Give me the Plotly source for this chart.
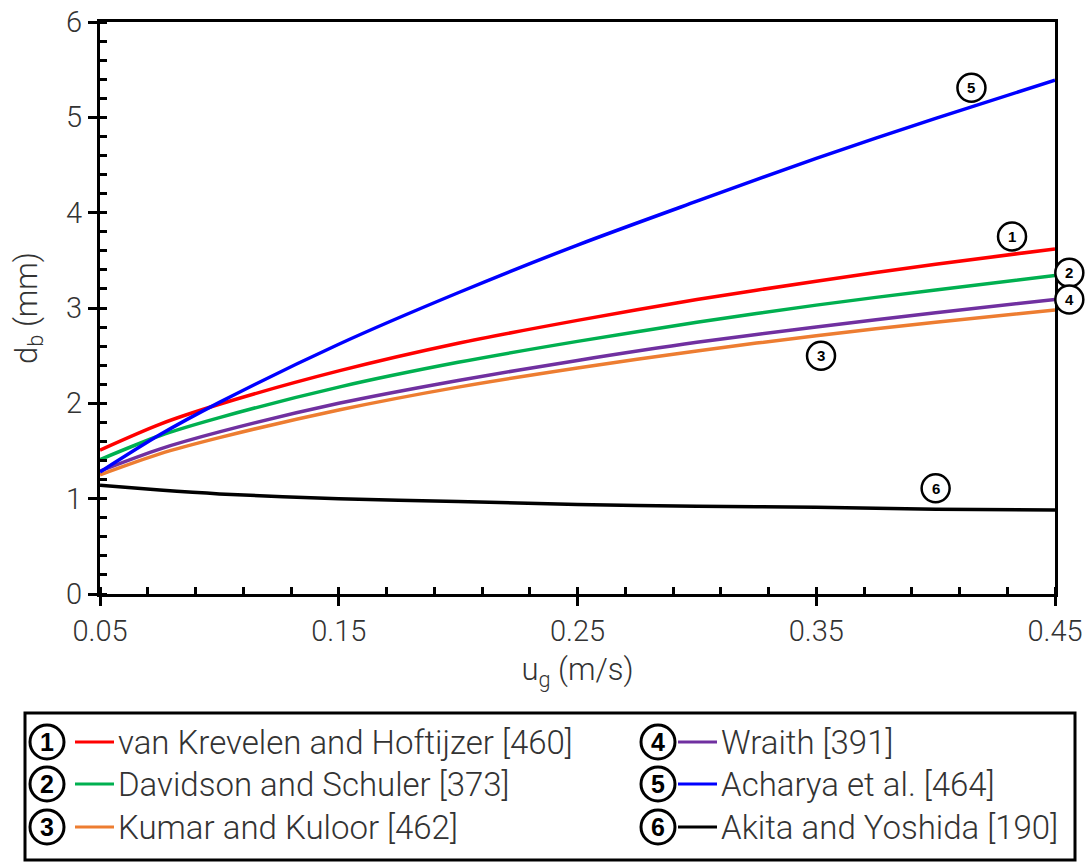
import plotly.graph_objects as go

# Superficial gas velocity (m/s)
u_g = [0.05, 0.075, 0.10, 0.15, 0.20, 0.25, 0.30, 0.35, 0.40, 0.45]

# Bubble diameter (mm) from each correlation
d_van_krevelen = [1.51, 1.78, 1.99, 2.34, 2.63, 2.87, 3.09, 3.28, 3.46, 3.62]
d_davidson     = [1.41, 1.66, 1.85, 2.17, 2.43, 2.65, 2.85, 3.03, 3.19, 3.34]
d_kumar        = [1.25, 1.47, 1.64, 1.93, 2.17, 2.37, 2.55, 2.71, 2.85, 2.98]
d_wraith       = [1.29, 1.52, 1.70, 2.00, 2.24, 2.45, 2.64, 2.80, 2.95, 3.09]
d_acharya      = [1.28, 1.67, 2.01, 2.62, 3.16, 3.66, 4.12, 4.57, 4.99, 5.39]
d_akita        = [1.14, 1.09, 1.05, 1.00, 0.97, 0.94, 0.92, 0.91, 0.89, 0.88]

series_names = [
    "van Krevelen and Hoftijzer [460]",
    "Davidson and Schuler [373]",
    "Kumar and Kuloor [462]",
    "Wraith [391]",
    "Acharya et al. [464]",
    "Akita and Yoshida [190]",
]
series_values = [d_van_krevelen, d_davidson, d_kumar, d_wraith, d_acharya, d_akita]
series_colors = ["#FF0000", "#00B050", "#ED7D31", "#7030A0", "#0000FF", "#000000"]

# Number tags placed next to the curves (u_g, d_b)
tag_positions = [(0.432, 3.75), (0.456, 3.37), (0.352, 2.50), (0.456, 3.09), (0.415, 5.31), (0.400, 1.11)]

W, H = 1089, 863
L, R, T, B = 100, 34, 22, 269
PW, PH = W - L - R, H - T - B
X_MIN, X_MAX, Y_MIN, Y_MAX = 0.05, 0.45, 0.0, 6.0

FONT = "Roboto"
TEXT_COLOR = "#333333"


def px_to_paper(px, py):
    return (px - L) / PW, (H - B - py) / PH


def data_to_paper(x, y):
    return (x - X_MIN) / (X_MAX - X_MIN), (y - Y_MIN) / (Y_MAX - Y_MIN)


def circled_number(shapes, annotations, cx, cy, r_px, number, size, lw):
    rx, ry = r_px / PW, r_px / PH
    shapes.append(dict(type="circle", xref="paper", yref="paper",
                       x0=cx - rx, x1=cx + rx, y0=cy - ry, y1=cy + ry,
                       line=dict(color="black", width=lw), fillcolor="white", layer="above"))
    annotations.append(dict(xref="paper", yref="paper", x=cx, y=cy, text=f"<b>{number}</b>",
                            showarrow=False, xanchor="center", yanchor="middle",
                            font=dict(family="Arial", size=size, color="black")))


fig = go.Figure()
for name, vals, color in zip(series_names, series_values, series_colors):
    fig.add_trace(go.Scatter(x=u_g, y=vals, name=name, mode="lines",
                             line=dict(color=color, width=3.5, shape="spline", smoothing=0.8),
                             showlegend=False))

shapes, annotations = [], []

# Tags beside the curves
for i, (tx, ty) in enumerate(tag_positions):
    cx, cy = data_to_paper(tx, ty)
    circled_number(shapes, annotations, cx, cy, 14, i + 1, 15, 2.5)

# Legend box below the plot
bx0, by0 = px_to_paper(25, 860)
bx1, by1 = px_to_paper(1075, 713)
shapes.append(dict(type="rect", xref="paper", yref="paper", x0=bx0, x1=bx1, y0=by0, y1=by1,
                   line=dict(color="black", width=3), fillcolor="white", layer="below"))

row_y = [742, 784, 827]
col_x = [(47, 75, 114, 116), (658, 678, 717, 719)]
for i, (name, color) in enumerate(zip(series_names, series_colors)):
    circ_x, line_x0, line_x1, text_x = col_x[i // 3]
    ry_px = row_y[i % 3]
    cx, cy = px_to_paper(circ_x, ry_px)
    circled_number(shapes, annotations, cx, cy, 17, i + 1, 25, 3)
    lx0, ly = px_to_paper(line_x0, ry_px)
    lx1, _ = px_to_paper(line_x1, ry_px)
    shapes.append(dict(type="line", xref="paper", yref="paper", x0=lx0, x1=lx1, y0=ly, y1=ly,
                       line=dict(color=color, width=3)))
    tx, _ = px_to_paper(text_x, ry_px)
    annotations.append(dict(xref="paper", yref="paper", x=tx, y=ly, text=name, showarrow=False,
                            xanchor="left", yanchor="middle",
                            font=dict(family=FONT, size=33, color=TEXT_COLOR, weight=300)))

axis_common = dict(showline=True, linecolor="black", linewidth=3, mirror=True, automargin=False,
                   showgrid=False, zeroline=False, ticks="outside", ticklen=9, tickwidth=3,
                   tickcolor="black",
                   tickfont=dict(family=FONT, size=29, color=TEXT_COLOR, weight=300))

fig.update_layout(
    width=W, height=H,
    margin=dict(l=L, r=R, t=T, b=B),
    paper_bgcolor="white", plot_bgcolor="white",
    xaxis=dict(range=[X_MIN, X_MAX], tick0=0.05, dtick=0.1, tickformat=".2f",
               title=dict(text="u<sub>g</sub> (m/s)", standoff=12,
                          font=dict(family=FONT, size=31, color=TEXT_COLOR, weight=300)),
               minor=dict(ticks="inside", dtick=0.02, tick0=0.05, ticklen=7, tickwidth=2.5,
                          tickcolor="black"),
               **axis_common),
    yaxis=dict(range=[Y_MIN, Y_MAX], dtick=1,
               title=dict(text="d<sub>b</sub> (mm)", standoff=20,
                          font=dict(family=FONT, size=31, color=TEXT_COLOR, weight=300)),
               minor=dict(ticks="inside", dtick=0.2, ticklen=7, tickwidth=2.5, tickcolor="black"),
               **axis_common),
    shapes=shapes,
    annotations=annotations,
)

fig.write_html("out.html")
